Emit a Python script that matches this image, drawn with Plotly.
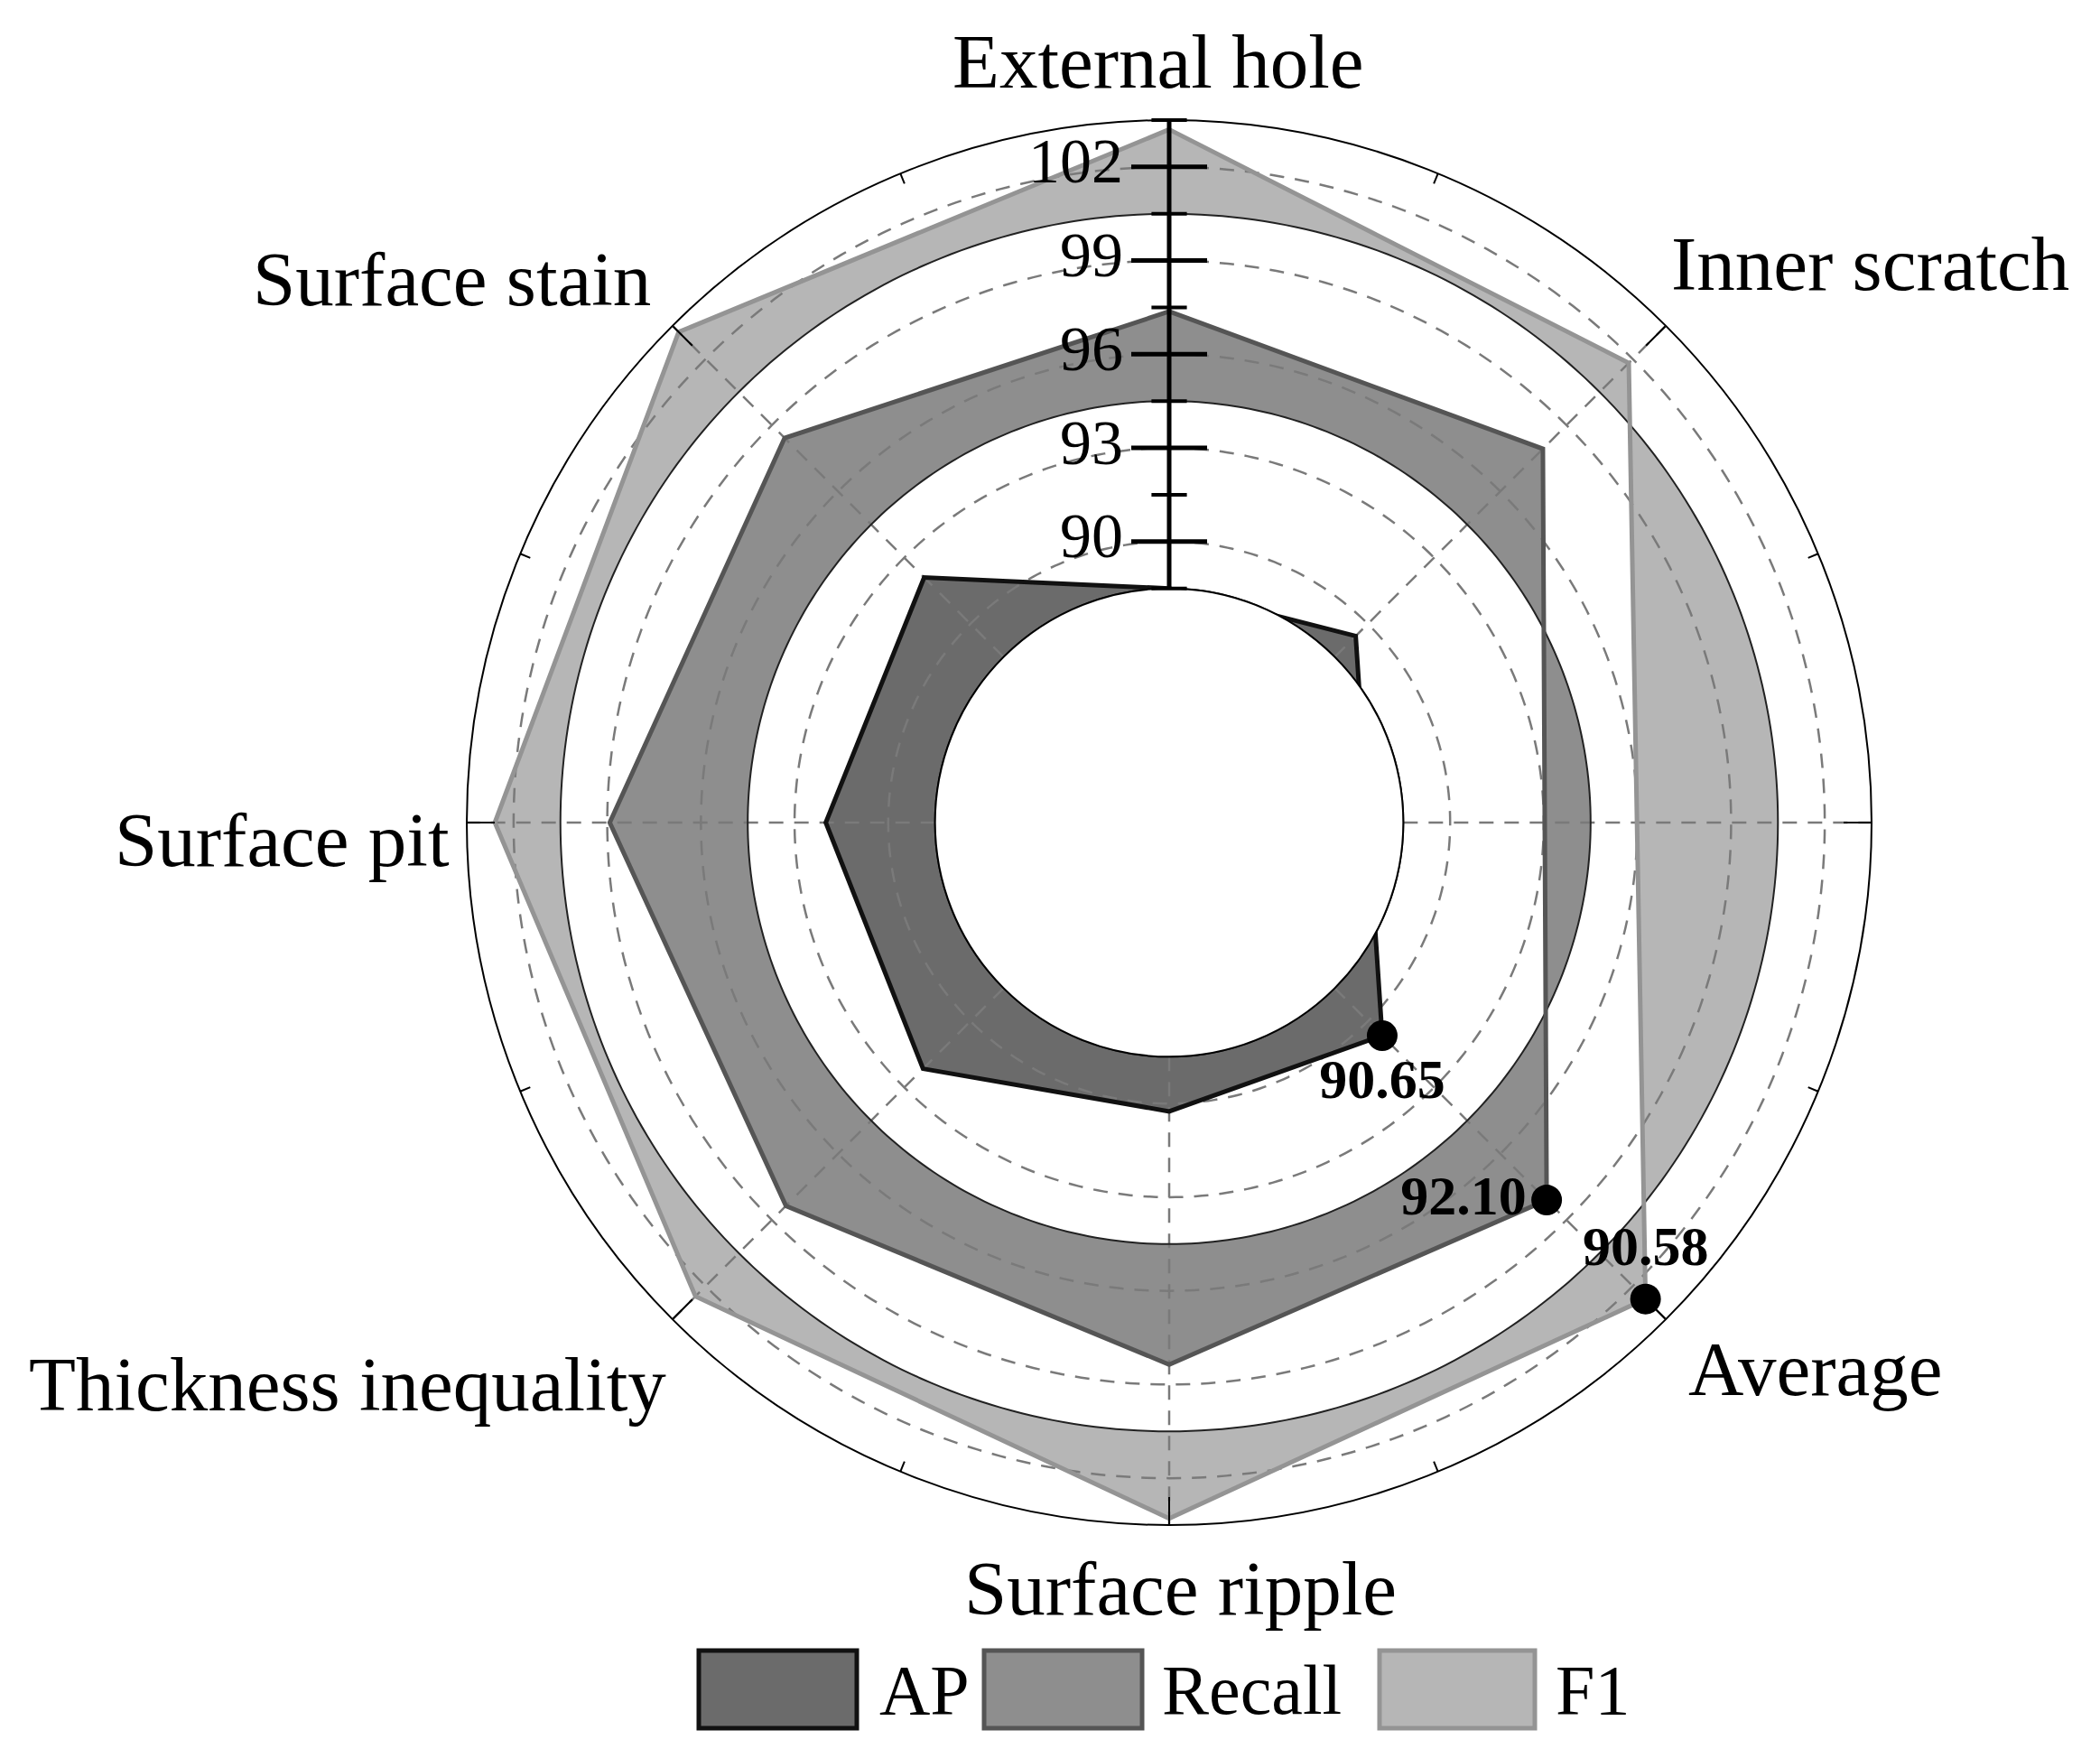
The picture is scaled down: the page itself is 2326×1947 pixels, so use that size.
import numpy as np
import plotly.graph_objects as go

# ---------------- data ----------------
slots = ["External hole", "Inner scratch", None, "Average", "Surface ripple",
         "Thickness inequality", "Surface pit", "Surface stain"]
categories = ["External hole", "Inner scratch", "Average", "Surface ripple",
              "Thickness inequality", "Surface pit", "Surface stain"]
ap = [88.5, 89.45, 90.65, 90.25, 92.15, 92.0, 92.1]
recall = [91.37, 91.93, 92.10, 92.36, 92.36, 92.92, 92.42]
f1 = [91.2, 89.82, 90.58, 91.29, 90.46, 90.6, 91.22]
series_names = ["AP", "Recall", "F1"]
series_offsets = [0, 6, 12]          # each series is drawn on its own ring band
radial_range = [88.5, 103.5]
radial_ticks = [90, 93, 96, 99, 102]
radial_minor = [88.5, 91.5, 94.5, 97.5, 100.5, 103.5]

# ---------------- style ----------------
series_vals = [ap, recall, f1]
fill_colors = ["#6b6b6b", "#8e8e8e", "#b6b6b6"]
line_colors = ["#111111", "#555555", "#949494"]
FONT = "Liberation Serif, Times New Roman, serif"
W, H = 2326, 1947
PAGE_OFF = 8                      # default page margin of the html body
cx, cy, R = 1295, 911, 778
HOLE = 1 / 3
px_per_unit = R * (1 - HOLE) / (radial_range[1] - radial_range[0])


def px2paper_x(px):
    return (px - PAGE_OFF) / W


def px2paper_y(py):
    return 1 - (py - PAGE_OFF) / H


step = 360 / len(slots)
thetas = [slots.index(c) * step for c in categories]
avg_idx = categories.index("Average")

fig = go.Figure()
common = dict(hoverinfo="skip", showlegend=False, subplot="polar")

# ring fills (polygon XOR base circle)
circ = np.linspace(0, -360, 361).tolist()
for vals, off, fc in list(zip(series_vals, series_offsets, fill_colors))[::-1]:
    base = radial_range[0] + off
    rr = [v + off for v in vals] + [vals[0] + off]
    tt = thetas + [thetas[0]]
    fig.add_trace(go.Scatterpolar(
        r=rr + [base] * len(circ), theta=tt + circ, mode="lines",
        fill="toself", fillcolor=fc, line=dict(width=0, color=fc), **common))

# dashed grid circles
full = np.linspace(0, 360, 361).tolist()
gr, gt = [], []
for v in radial_ticks:
    gr += [v] * len(full) + [None]
    gt += full + [None]
fig.add_trace(go.Scatterpolar(r=gr, theta=gt, mode="lines",
                              line=dict(color="#7a7a7a", width=2.5, dash="16px,12px"), **common))
# dashed spokes
sr, st = [], []
for i in range(len(slots)):
    sr += [radial_range[0], radial_range[1], None]
    st += [i * step, i * step, None]
fig.add_trace(go.Scatterpolar(r=sr, theta=st, mode="lines",
                              line=dict(color="#7a7a7a", width=2.5, dash="16px,12px"), **common))

# solid base circles
br, bt = [], []
for off in series_offsets:
    br += [radial_range[0] + off] * len(full) + [None]
    bt += full + [None]
fig.add_trace(go.Scatterpolar(r=br, theta=bt, mode="lines",
                              line=dict(color="#222222", width=2), cliponaxis=False, **common))

# polygon outlines
for vals, off, lc in list(zip(series_vals, series_offsets, line_colors))[::-1]:
    fig.add_trace(go.Scatterpolar(
        r=[v + off for v in vals] + [vals[0] + off], theta=thetas + [thetas[0]],
        mode="lines", line=dict(color=lc, width=5, shape="linear"), **common))

# minor angular ticks
d_minor = 12 / px_per_unit
mr, mt = [], []
for i in range(len(slots)):
    a = i * step + step / 2
    mr += [radial_range[1] - d_minor, radial_range[1], None]
    mt += [a, a, None]
fig.add_trace(go.Scatterpolar(r=mr, theta=mt, mode="lines",
                              line=dict(color="black", width=2), cliponaxis=False, **common))

# radial axis (drawn along External hole direction)
fig.add_trace(go.Scatterpolar(r=radial_range, theta=[0, 0], mode="lines",
                              line=dict(color="black", width=5), cliponaxis=False, **common))
fig.add_trace(go.Scatterpolar(r=radial_ticks, theta=[0] * len(radial_ticks), mode="markers",
                              marker=dict(symbol="line-ew", size=60,
                                          line=dict(width=5, color="black")),
                              cliponaxis=False, **common))
fig.add_trace(go.Scatterpolar(r=radial_minor, theta=[0] * len(radial_minor), mode="markers",
                              marker=dict(symbol="line-ew", size=28,
                                          line=dict(width=4, color="black")),
                              cliponaxis=False, **common))
fig.add_trace(go.Scatterpolar(r=radial_ticks, theta=[0] * len(radial_ticks), mode="markers+text",
                              text=[str(t) for t in radial_ticks], textposition="middle left",
                              textfont=dict(family=FONT, size=70, color="black"),
                              marker=dict(size=80, color="rgba(0,0,0,0)"),
                              cliponaxis=False, **common))

# average markers + labels
label_pos = ["bottom center", "middle left", "top center"]
for vals, off, tp in zip(series_vals, series_offsets, label_pos):
    v = vals[avg_idx]
    fig.add_trace(go.Scatterpolar(
        r=[v + off], theta=[thetas[avg_idx]], mode="markers+text",
        text=[f"{v:.2f}"], textposition=tp,
        textfont=dict(family=FONT, size=62, color="black", weight="bold"),
        marker=dict(size=34, color="black"), cliponaxis=False, **common))

# ---------------- layout ----------------
domx = [px2paper_x(cx - R), px2paper_x(cx + R)]
domy = [px2paper_y(cy + R), px2paper_y(cy - R)]

cat_label_px = {
    "External hole": (1283, 68),
    "Inner scratch": (2071, 292),
    "Average": (2011, 1516),
    "Surface ripple": (1307, 1759),
    "Thickness inequality": (385, 1533),
    "Surface pit": (312, 930),
    "Surface stain": (500, 309),
}
annotations = []
for c in categories:
    x, y = cat_label_px[c]
    annotations.append(dict(x=px2paper_x(x), y=px2paper_y(y), xref="paper", yref="paper",
                            text=c, showarrow=False, xanchor="center", yanchor="middle",
                            font=dict(family=FONT, size=85, color="black")))

shapes = []
legend_box_x = [(774, 949), (1090, 1265), (1528, 1700)]
legend_text_x = [972, 1285, 1721]
ly0, ly1 = 1828, 1914
for name, (x0, x1), tx, fc, lc in zip(series_names, legend_box_x, legend_text_x,
                                       fill_colors, line_colors):
    shapes.append(dict(type="rect", xref="paper", yref="paper",
                       x0=px2paper_x(x0), x1=px2paper_x(x1),
                       y0=px2paper_y(ly1), y1=px2paper_y(ly0),
                       fillcolor=fc, line=dict(color=lc, width=5)))
    annotations.append(dict(x=px2paper_x(tx), y=px2paper_y((ly0 + ly1) / 2),
                            xref="paper", yref="paper",
                            text=name, showarrow=False, xanchor="left", yanchor="middle",
                            font=dict(family=FONT, size=78, color="black")))

fig.update_layout(
    width=W, height=H,
    margin=dict(l=0, r=0, t=0, b=0),
    paper_bgcolor="white", plot_bgcolor="white",
    showlegend=False,
    polar=dict(
        domain=dict(x=domx, y=domy),
        hole=HOLE,
        bgcolor="white",
        radialaxis=dict(range=radial_range, showline=False, showticklabels=False,
                        ticks="", showgrid=False),
        angularaxis=dict(rotation=90, direction="clockwise", thetaunit="degrees",
                         tickmode="linear", tick0=0, dtick=step,
                         ticks="inside", ticklen=30, tickwidth=2, tickcolor="black",
                         showticklabels=False, showgrid=False,
                         showline=True, linecolor="black", linewidth=2),
    ),
    annotations=annotations,
    shapes=shapes,
)

fig.write_html("out.html")
